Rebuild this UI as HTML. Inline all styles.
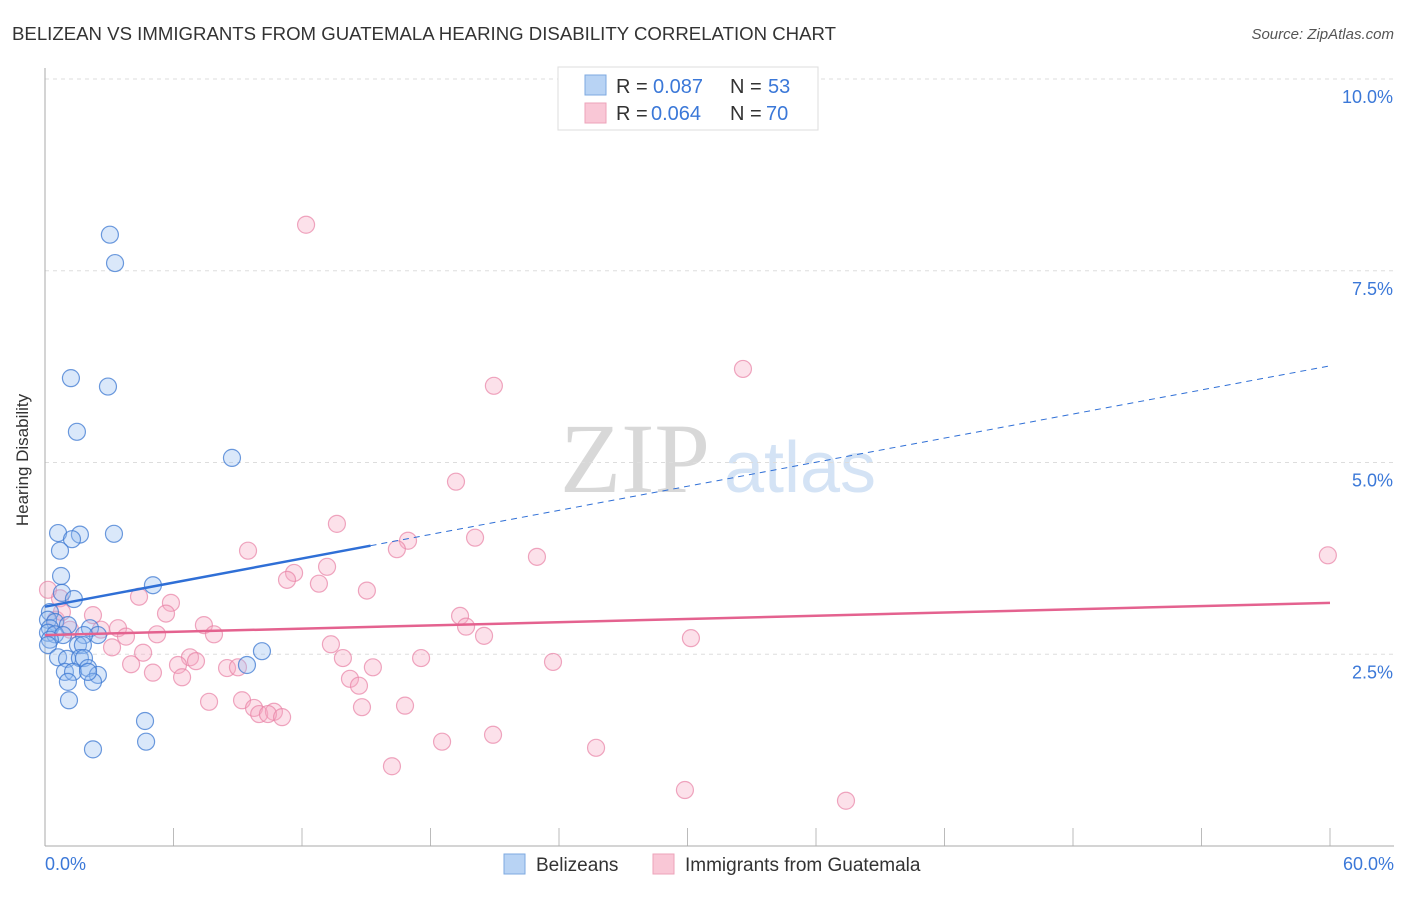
<!DOCTYPE html>
<html><head><meta charset="utf-8">
<style>
body{margin:0;background:#fff;font-family:"Liberation Sans",sans-serif;}
svg text{font-family:"Liberation Sans",sans-serif;}
</style></head>
<body>
<svg id="chart" width="1406" height="892" viewBox="0 0 1406 892">
<text x="12" y="40" font-size="18" fill="#333" textLength="824" lengthAdjust="spacingAndGlyphs">BELIZEAN VS IMMIGRANTS FROM GUATEMALA HEARING DISABILITY CORRELATION CHART</text>
<text x="1394" y="39" font-size="15" fill="#555" font-style="italic" text-anchor="end">Source: ZipAtlas.com</text>
<g>
<text x="635" y="492" font-size="100" fill="#d8d8d8" font-family="Liberation Serif" text-anchor="middle" style="font-family:'Liberation Serif',serif">ZIP</text>
<text x="800" y="492" font-size="72" fill="#d4e3f5" text-anchor="middle">atlas</text>
</g>
<g id="grid"></g>
<line x1="45" y1="68" x2="45" y2="846" stroke="#aaa"/>
<line x1="45" y1="846" x2="1394" y2="846" stroke="#aaa"/>
<text x="24" y="456" font-size="17" fill="#333" transform="rotate(-90 28 456)" text-anchor="middle">Hearing Disability</text>
<g id="marks"></g>
<g>
<rect x="558" y="67" width="260" height="63" fill="#fff" stroke="#ddd"/>
<rect x="585" y="75" width="21" height="20" fill="#b8d3f4" stroke="#7ea9e0"/>
<rect x="585" y="103" width="21" height="20" fill="#f9c7d6" stroke="#eda3ba"/>
<g font-size="20">
<text x="616" y="93" fill="#333">R =</text><text x="653" y="93" fill="#3b78d8">0.087</text>
<text x="730" y="93" fill="#333">N =</text><text x="768" y="93" fill="#3b78d8">53</text></g>
<g font-size="20">
<text x="616" y="120" fill="#333">R =</text><text x="651" y="120" fill="#3b78d8">0.064</text>
<text x="730" y="120" fill="#333">N =</text><text x="766" y="120" fill="#3b78d8">70</text></g>
</g>
<g>
<rect x="504" y="854" width="21" height="20" fill="#b8d3f4" stroke="#7ea9e0"/>
<text x="536" y="871" font-size="19" fill="#333">Belizeans</text>
<rect x="653" y="854" width="21" height="20" fill="#f9c7d6" stroke="#eda3ba"/>
<text x="685" y="871" font-size="19" fill="#333">Immigrants from Guatemala</text>
</g>
</svg>
<script>
const yTicks=[2.5,5.0,7.5,10.0];
const xTickVals=[0,6,12,18,24,30,36,42,48,54,60];
const xLabels=["0.0%","60.0%"];
const blueX=[3.03,3.27,1.21,2.94,1.49,8.73,0.61,1.63,3.22,1.26,0.70,0.75,5.04,0.79,1.35,0.23,0.14,0.47,1.07,0.23,2.10,0.14,0.47,0.84,2.47,1.82,0.23,0.14,1.54,1.77,10.13,0.61,1.03,1.63,1.82,9.43,0.93,1.31,2.01,2.47,1.07,2.24,1.12,4.67,4.72,2.24,2.01];
const blueY=[7.97,7.60,6.10,5.99,5.40,5.06,4.08,4.06,4.07,4.00,3.85,3.52,3.40,3.30,3.22,3.05,2.95,2.92,2.88,2.84,2.84,2.78,2.76,2.75,2.75,2.75,2.69,2.62,2.62,2.62,2.54,2.46,2.44,2.45,2.45,2.36,2.27,2.27,2.32,2.23,2.14,2.14,1.90,1.63,1.36,1.26,2.27];
const pinkX=[12.19,32.59,20.96,19.19,13.63,16.95,20.08,16.43,9.48,22.97,59.90,11.63,13.17,11.30,12.79,15.03,0.14,0.70,4.39,5.88,2.24,5.65,19.38,0.51,19.66,7.42,3.41,2.61,20.50,5.23,7.89,3.78,30.16,13.35,3.13,4.58,6.77,7.05,13.91,17.56,23.72,4.02,6.21,15.31,8.50,9.01,5.04,6.40,14.24,14.66,7.66,9.20,9.76,16.81,14.80,10.0,10.69,10.41,11.07,18.54,20.92,25.73,16.20,29.88,37.40,0.79,1.17];
const pinkY=[8.10,6.22,6.00,4.75,4.20,3.98,4.02,3.87,3.85,3.77,3.79,3.56,3.64,3.47,3.42,3.33,3.34,3.23,3.25,3.17,3.01,3.03,3.00,2.95,2.86,2.88,2.84,2.82,2.74,2.76,2.76,2.73,2.71,2.63,2.59,2.52,2.46,2.41,2.45,2.45,2.40,2.37,2.36,2.33,2.32,2.33,2.26,2.20,2.18,2.09,1.88,1.90,1.80,1.83,1.81,1.72,1.75,1.72,1.68,1.36,1.45,1.28,1.04,0.73,0.59,3.05,2.82];
const blueTrend=[3.12,6.26];
const pinkTrend=[2.75,3.17];
const blueSolidEnd=15.2;
const NS="http://www.w3.org/2000/svg";
const X=v=>45+v/60*1285;
const Y=v=>846-v*76.7;
function mk(t,a,p){const e=document.createElementNS(NS,t);for(const k in a)e.setAttribute(k,a[k]);p.appendChild(e);return e;}
const grid=document.getElementById('grid'),marks=document.getElementById('marks');
yTicks.forEach(v=>{
 const l=mk('line',{x1:45,x2:1394,y1:Y(v),y2:Y(v),stroke:'#ddd','stroke-dasharray':'4,4'},grid);
 
 
 const t=mk('text',{x:1393,y:Y(v)+24,'font-size':18,fill:'#3b78d8','text-anchor':'end'},grid);
 t.textContent=v.toFixed(1)+'%';
 
 
});
xTickVals.forEach(v=>{
 const l=mk('line',{x1:X(v),x2:X(v),y1:828,y2:846,stroke:'#bbb'},grid);
 
 
});
[[0,'start',45],[60,'end',1394]].forEach((d,i)=>{
 const t=mk('text',{x:d[2],y:870,'font-size':18,fill:'#3b78d8','text-anchor':d[1]},grid);
 t.textContent=xLabels[i];
 
 
});
pinkX.forEach((x,i)=>{
 const c=mk('circle',{cx:X(x),cy:Y(pinkY[i]),r:8.5,fill:'rgba(246,170,195,0.35)',stroke:'rgba(232,130,165,0.7)','stroke-width':1.2},marks);
 
 
});
blueX.forEach((x,i)=>{
 const c=mk('circle',{cx:X(x),cy:Y(blueY[i]),r:8.5,fill:'rgba(150,190,240,0.35)',stroke:'rgba(60,120,210,0.75)','stroke-width':1.2},marks);
 
 
});
const bAt=x=>blueTrend[0]+(blueTrend[1]-blueTrend[0])*x/60;
let l=mk('line',{x1:X(0),y1:Y(bAt(0)),x2:X(blueSolidEnd),y2:Y(bAt(blueSolidEnd)),stroke:'#2f6fd6','stroke-width':2.5},marks);


l=mk('line',{x1:X(blueSolidEnd),y1:Y(bAt(blueSolidEnd)),x2:X(60),y2:Y(bAt(60)),stroke:'#2f6fd6','stroke-width':1,'stroke-dasharray':'6,5'},marks);


l=mk('line',{x1:X(0),y1:Y(pinkTrend[0]),x2:X(60),y2:Y(pinkTrend[1]),stroke:'#e4628f','stroke-width':2.5},marks);


</script>
</body></html>
